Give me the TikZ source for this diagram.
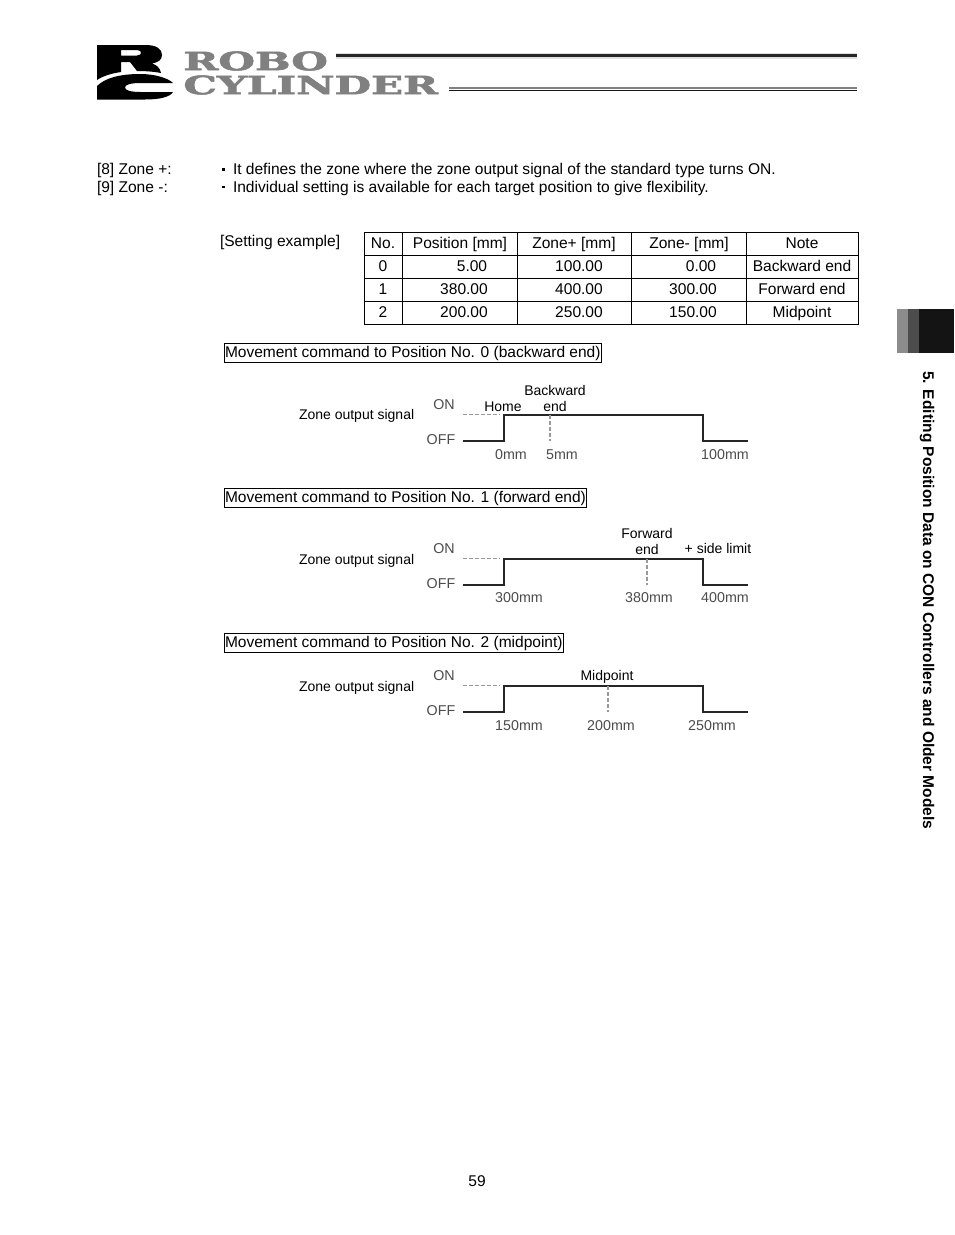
\documentclass[tikz,border=0pt]{standalone}
\usepackage{fontspec}
\setmainfont{Liberation Sans}
\newfontfamily\logofont[FakeBold=2,UprightFont=* Bold]{DejaVu Serif}
\begin{document}
\begin{tikzpicture}[x=0.75pt,y=-0.75pt,
  txt/.style={inner sep=0,outer sep=0,font=\fontsize{11.66}{13}\selectfont},
  lbl/.style={inner sep=0,outer sep=0,font=\fontsize{10.5}{11}\selectfont,align=center},
  small/.style={inner sep=0,outer sep=0,font=\fontsize{10.7}{11}\selectfont,text=black!70,align=center},
  sig/.style={line width=1.5pt,black!85},
  guide/.style={line width=0.8pt,black!40,dash pattern=on 3pt off 1.5pt},
  boxed/.style={draw,line width=0.6pt,inner xsep=0.4pt,inner ysep=1.6pt,outer sep=0,font=\fontsize{11.63}{13}\selectfont}]
\useasboundingbox (0,0) rectangle (954,1235);
\fill[white] (0,0) rectangle (954,1235);
% logo
\fill[black,even odd rule] (97,45) -- (145,45) .. controls (157,45) and (162,49) .. (162,55) .. controls (162,60) and (158,62.5) .. (152,63.5) .. controls (157,65) and (160,68) .. (161,73) .. controls (153,71.5) and (145,71) .. (137,71) -- (130,62) -- (121,62) -- (121,72) .. controls (111,73.5) and (103,76) .. (97,80) -- cycle
 (121,50) -- (137,50) .. controls (140,50) and (141,51.5) .. (141,52.8) .. controls (141,54) and (140,55.5) .. (137,55.5) -- (121,55.5) -- cycle;
\fill[black] (97,86) .. controls (105,78) and (120,74) .. (140,74) .. controls (155,74) and (168,78) .. (173,83) -- (140,83) .. controls (130,83) and (125,85) .. (125,87.5) .. controls (125,90) and (130,92) .. (140,92) -- (173,92) .. controls (170,97) and (160,99.5) .. (145,99.5) -- (97,99.5) -- cycle;
\node[anchor=west,inner sep=0,text=black!50,font=\logofont\fontsize{19}{19}\selectfont,xscale=1.66] (robo) at (183,61) {ROBO};
\node[anchor=west,inner sep=0,text=black!50,font=\logofont\fontsize{19}{19}\selectfont,xscale=1.66] (cyl) at (183,85) {CYLINDER};
\fill[black!12] (336,53) rectangle (857,58.5);
\fill[black!85] (336,54.3) rectangle (857,57);
\fill[black!50] (449,87) rectangle (857,89);
\fill[black!90] (449,89.5) rectangle (857,91);
% side tab
\fill[black!45] (897,309) rectangle (908,353);
\fill[black!70] (908,309) rectangle (919,353);
\fill[black!92] (919,309) rectangle (954,353);
\node[rotate=-90,anchor=west,inner sep=0,font=\bfseries\fontsize{11.63}{13}\selectfont] (side) at (927,371) {5. Editing Position Data on CON Controllers and Older Models};
% intro
\node[txt,anchor=base west] (z8) at (97,174) {[8] Zone +:};
\node[txt,anchor=base west] (z9) at (97,192) {[9] Zone -:};
\fill (222,168) rectangle (224.5,170.5);
\fill (222,185.5) rectangle (224.5,188);
\node[txt,anchor=base west] (t8) at (233,174) {It defines the zone where the zone output signal of the standard type turns ON.};
\node[txt,anchor=base west] (t9) at (233,192) {Individual setting is available for each target position to give flexibility.};
\node[txt,anchor=base west] (ex) at (220,246) {[Setting example]};
% table
\draw[line width=0.6pt] (364.5,232.5) rectangle (858.5,324.5);
\foreach \y in {255.5,278.5,301.5} \draw[line width=0.6pt] (364.5,\y) -- (858.5,\y);
\foreach \x in {402.5,517.5,631.5,746.5} \draw[line width=0.6pt] (\x,232.5) -- (\x,324.5);
\foreach \x/\y/\t in {383/248/No.,460/248/{Position [mm]},574/248/{Zone+ [mm]},689/248/{Zone- [mm]},802/248/Note,
 383/271/0,383/294/1,383/317/2,
 802/271/{Backward end},802/294/{Forward end},802/317/Midpoint,
 464/294/380.00,464/317/200.00,579/271/100.00,579/294/400.00,579/317/250.00,
 701/271/0.00,693/294/300.00,693/317/150.00,472/271/5.00}
  \node[txt,anchor=base] at (\x,\y) {\t};
% headings
\node[boxed,anchor=west] (h0) at (224.5,353) {Movement command to Position No. 0 (backward end)};
\node[boxed,anchor=west] (h1) at (224.5,498) {Movement command to Position No. 1 (forward end)};
\node[boxed,anchor=west] (h2) at (224.5,643) {Movement command to Position No. 2 (midpoint)};
% chart 0
\node[lbl,anchor=base west] (zs0) at (299,419) {Zone output signal};
\node[small,anchor=base] (on0) at (444,409) {ON};
\node[small,anchor=base] (off0) at (441,444) {OFF};
\draw[guide] (463,414.5) -- (500,414.5);
\draw[sig] (463,441) -- (504,441) -- (504,414.5) -- (703,414.5) -- (703,441) -- (748,441);
\draw[guide] (550,414.5) -- (550,441);
\node[lbl,anchor=base] (home) at (503,411) {Home};
\node[lbl,anchor=base] (bw) at (555,395) {Backward};
\node[lbl,anchor=base] (bwe) at (555,411) {end};
\node[small,anchor=base] at (511,459) {0mm};
\node[small,anchor=base] at (562,459) {5mm};
\node[small,anchor=base] at (725,459) {100mm};
% chart 1
\node[lbl,anchor=base west] (zs1) at (299,564) {Zone output signal};
\node[small,anchor=base] (on1) at (444,553) {ON};
\node[small,anchor=base] (off1) at (441,588) {OFF};
\draw[guide] (463,558.5) -- (500,558.5);
\draw[sig] (463,585) -- (504,585) -- (504,558.5) -- (703,558.5) -- (703,585) -- (748,585);
\draw[guide] (647,558.5) -- (647,585);
\node[lbl,anchor=base] at (647,538) {Forward};
\node[lbl,anchor=base] at (647,554) {end};
\node[lbl,anchor=base] at (718,553) {+ side limit};
\node[small,anchor=base] at (519,602) {300mm};
\node[small,anchor=base] at (649,602) {380mm};
\node[small,anchor=base] at (725,602) {400mm};
% chart 2
\node[lbl,anchor=base west] (zs2) at (299,691) {Zone output signal};
\node[small,anchor=base] (on2) at (444,680) {ON};
\node[small,anchor=base] (off2) at (441,715) {OFF};
\draw[guide] (463,685.5) -- (500,685.5);
\draw[sig] (463,712) -- (504,712) -- (504,685.5) -- (703,685.5) -- (703,712) -- (748,712);
\draw[guide] (608,685.5) -- (608,712);
\node[lbl,anchor=base] at (607,680) {Midpoint};
\node[small,anchor=base] at (519,730) {150mm};
\node[small,anchor=base] at (611,730) {200mm};
\node[small,anchor=base] at (712,730) {250mm};
% page
\node[txt,anchor=base] (pg) at (477,1186) {59};
\end{tikzpicture}
\end{document}
